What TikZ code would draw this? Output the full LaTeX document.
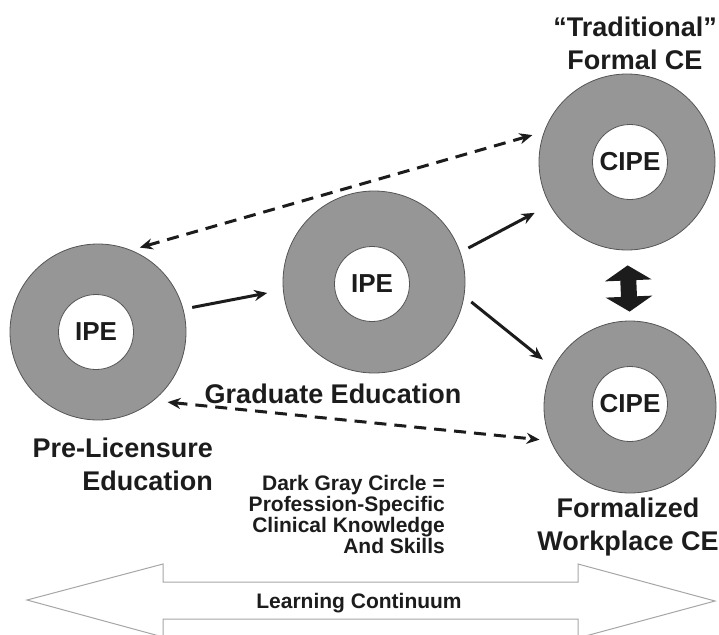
\documentclass[tikz,border=0pt]{standalone}
\usepackage{fontspec}
\setmainfont{Liberation Sans}
\usetikzlibrary{arrows.meta}

\definecolor{ringgray}{RGB}{150,150,151}
\definecolor{ringline}{RGB}{85,85,85}
\definecolor{inkblack}{RGB}{28,28,28}

\begin{document}
\begin{tikzpicture}
      [x=1pt,y=-1pt,>={Stealth[length=13pt,width=11pt]},
       ring/.style={draw=ringline,line width=0.8pt,circle,fill=ringgray,inner sep=0pt},
       hole/.style={draw=ringline,line width=0.8pt,circle,fill=white,inner sep=0pt,
                    minimum size=75pt,text=inkblack,font=\fontsize{26}{30}\selectfont\bfseries},
       stage/.style={inner sep=0pt,text=inkblack,font=\fontsize{27}{33}\selectfont\bfseries},
       legend/.style={inner sep=0pt,text=inkblack,align=right,font=\fontsize{21}{21}\selectfont\bfseries}]

      \tikzstyle{flow} = [line width=3pt,color=inkblack,->]
      \tikzstyle{back} = [line width=3pt,color=inkblack,dash pattern=on 12pt off 8pt,<->]

      \useasboundingbox (0,0) rectangle (719,634);

      \draw[draw=gray!70,line width=1pt,fill=white]
            (27,600) -- (163,564) -- (163,582) -- (578,582) -- (578,564) -- (715,601)
            -- (578,638) -- (578,619) -- (163,619) -- (163,637) -- cycle;
      \node[legend,font=\fontsize{21}{25}\selectfont\bfseries,anchor=base] (cont) at (359,608) {Learning Continuum};

      \node[ring,minimum size=176pt] (pre)  at (98,332)  {};
      \node[ring,minimum size=182pt] (grad) at (374,282) {};
      \node[ring,minimum size=176pt] (trad) at (627,162) {};
      \node[ring,minimum size=172pt] (work) at (630,407) {};

      \node[hole] (preIn)  at (96,332)  {IPE};
      \node[hole] (gradIn) at (372,284) {IPE};
      \node[hole] (tradIn) at (630,162) {CIPE};
      \node[hole] (workIn) at (630,404) {CIPE};

      \node[stage,align=center,anchor=base] (tradTxt) at (635,70)  {``Traditional''\\Formal CE};
      \node[stage,align=right,anchor=base east] (preTxt) at (213,490) {Pre-Licensure\\Education};
      \node[stage,anchor=base] (gradTxt) at (333,403) {Graduate Education};
      \node[stage,align=center,anchor=base] (workTxt) at (628,550) {Formalized\\Workplace CE};
      \node[legend,anchor=base east] (key) at (445,553)
            {Dark Gray Circle =\\Profession-Specific\\Clinical Knowledge\\And Skills};

      \path[flow]
            (pre.15)   edge[shorten <=9pt,shorten >=16pt] (grad.185)
            (grad.19)  edge[shorten <=9pt,shorten >=17pt] (trad.209)
            (grad.351) edge[shorten <=9pt,shorten >=13pt] (work.153);

      \path[back]
            (trad.160) edge[shorten <=12pt,shorten >=9pt]  (pre.68)
            (pre.309)  edge[shorten <=14pt,shorten >=11pt] (work.203);

      \draw[line width=16pt,color=inkblack,
            {Triangle[length=15pt,width=46pt]}-{Triangle[length=15pt,width=46pt]},
            shorten <=15pt,shorten >=9pt] (trad.south) -- (work.north);
\end{tikzpicture}
\end{document}
